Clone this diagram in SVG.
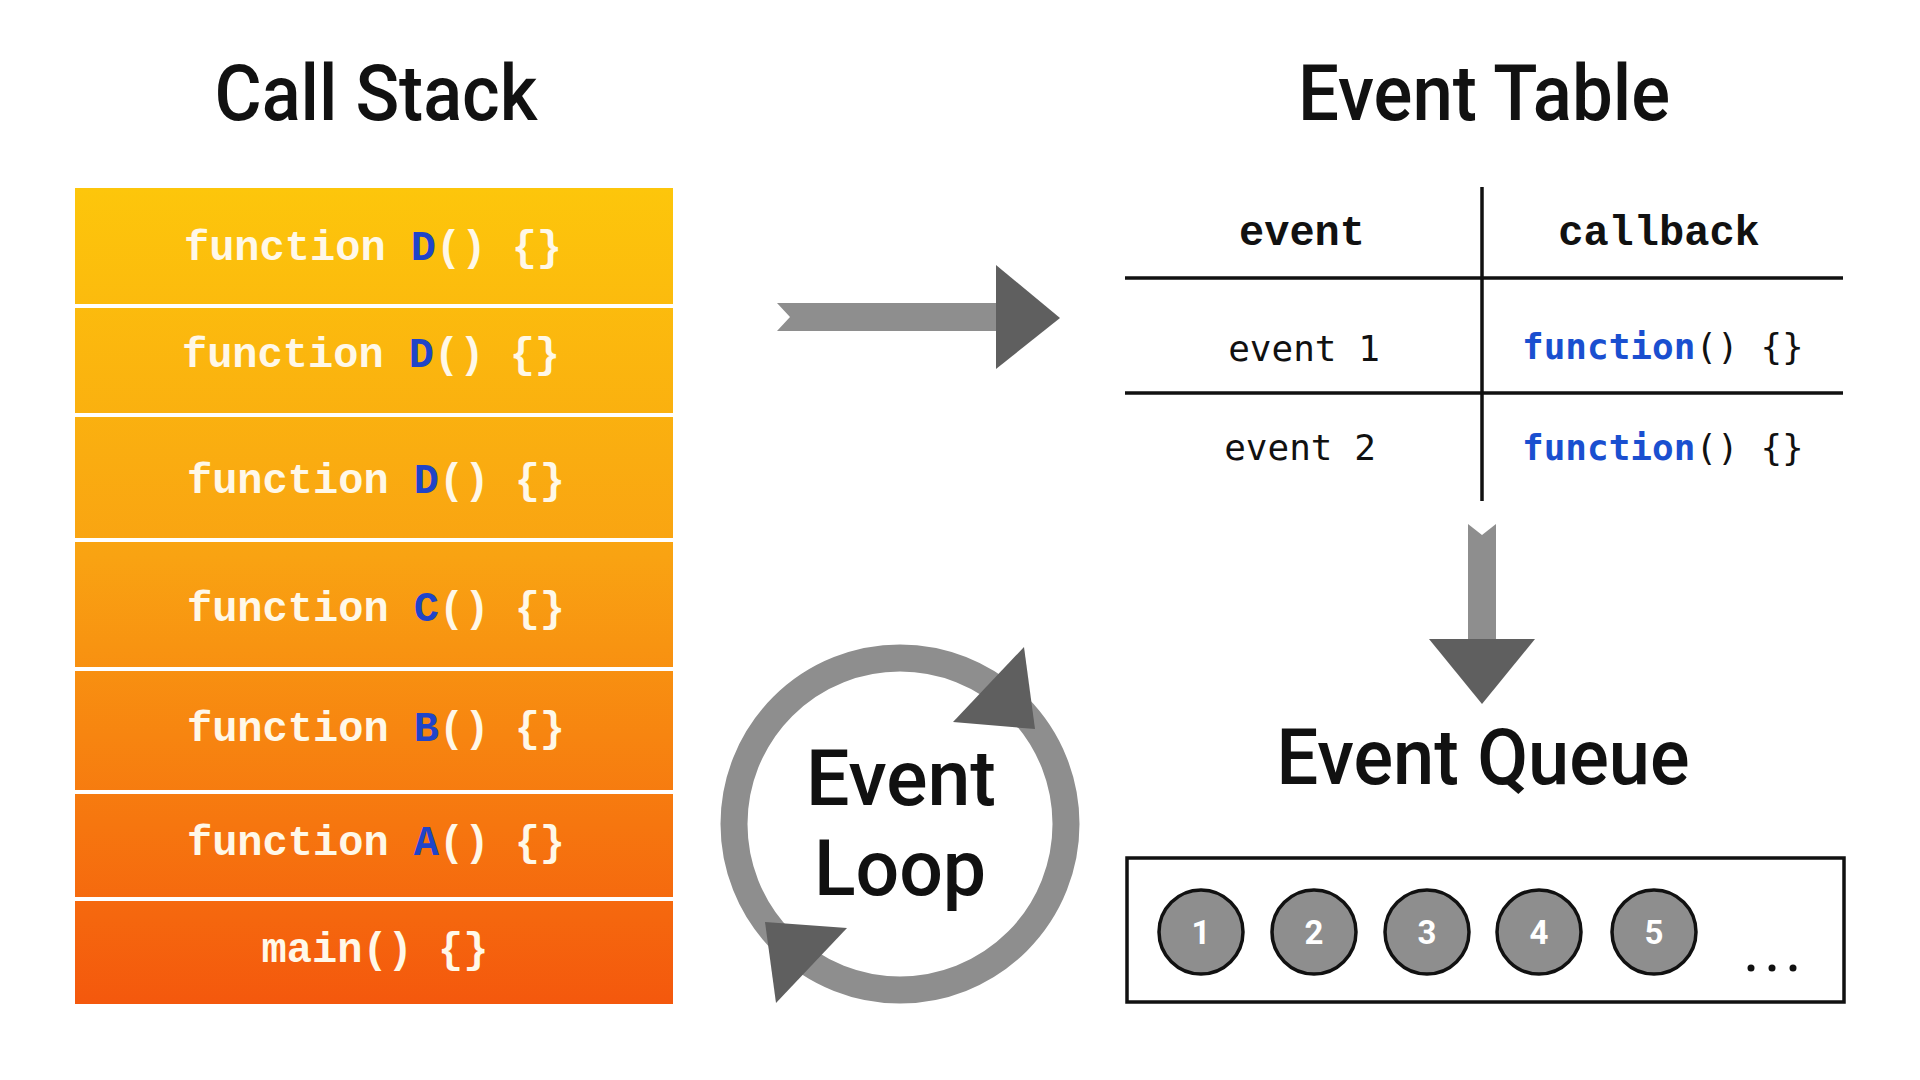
<svg xmlns="http://www.w3.org/2000/svg" width="1920" height="1080" viewBox="0 0 1920 1080">
<style>
.title{font-family:Roboto,"Liberation Sans",sans-serif;font-weight:500;font-size:77px;fill:#111;text-anchor:middle}
.stk{font-family:"Liberation Mono","DejaVu Sans Mono",monospace;font-weight:bold;font-size:42px;fill:#fff8e8;text-anchor:middle}
.fn{fill:#1f44c9}
.hdr{font-family:"Liberation Mono","DejaVu Sans Mono",monospace;font-weight:bold;font-size:42px;fill:#111;text-anchor:middle}
.cell{font-family:"DejaVu Sans Mono","Liberation Mono",monospace;font-size:36px;fill:#111}
.kw{fill:#1a4fd0;font-weight:bold}
.tline{stroke:#111;stroke-width:3.5}
.shaft{fill:#8e8e8e}
.head{fill:#5f5f5f}
.ball{fill:#8e8e8e;stroke:#111;stroke-width:3.5}
.num{font-family:Roboto,"Liberation Sans",sans-serif;font-weight:bold;font-size:33px;fill:#fff;text-anchor:middle}
</style>
<defs>
<linearGradient id="stackGrad" gradientUnits="userSpaceOnUse" x1="0" y1="188" x2="0" y2="1004">
<stop offset="0" stop-color="#fdc60b"/>
<stop offset="0.45" stop-color="#f9a312"/>
<stop offset="1" stop-color="#f4580d"/>
</linearGradient>
</defs>
<rect width="1920" height="1080" fill="#fff"/>

<text class="title" x="376" y="120" textLength="323" lengthAdjust="spacingAndGlyphs">Call Stack</text>
<text class="title" x="1484" y="120" textLength="372" lengthAdjust="spacingAndGlyphs">Event Table</text>
<text class="title" x="1483" y="784" textLength="413" lengthAdjust="spacingAndGlyphs">Event Queue</text>

<g id="call-stack">
<g id="row-d1"><rect x="75" y="188" width="598" height="116" fill="url(#stackGrad)"/><text class="stk" x="373" y="260">function <tspan class="fn">D</tspan>() {}</text></g>
<g id="row-d2"><rect x="75" y="308" width="598" height="105" fill="url(#stackGrad)"/><text class="stk" x="371" y="367">function <tspan class="fn">D</tspan>() {}</text></g>
<g id="row-d3"><rect x="75" y="417" width="598" height="121" fill="url(#stackGrad)"/><text class="stk" x="376" y="493">function <tspan class="fn">D</tspan>() {}</text></g>
<g id="row-c"><rect x="75" y="542" width="598" height="125" fill="url(#stackGrad)"/><text class="stk" x="376" y="621">function <tspan class="fn">C</tspan>() {}</text></g>
<g id="row-b"><rect x="75" y="671" width="598" height="119" fill="url(#stackGrad)"/><text class="stk" x="376" y="741">function <tspan class="fn">B</tspan>() {}</text></g>
<g id="row-a"><rect x="75" y="794" width="598" height="103" fill="url(#stackGrad)"/><text class="stk" x="376" y="855">function <tspan class="fn">A</tspan>() {}</text></g>
<g id="row-main"><rect x="75" y="901" width="598" height="103" fill="url(#stackGrad)"/><text class="stk" x="375" y="962">main() {}</text></g>
</g>

<g id="event-table">
<line class="tline" x1="1482" y1="187" x2="1482" y2="501"/>
<line class="tline" x1="1125" y1="278" x2="1843" y2="278"/>
<line class="tline" x1="1125" y1="393" x2="1843" y2="393"/>
<text class="hdr" x="1302" y="245">event</text>
<text class="hdr" x="1659" y="245">callback</text>
<text class="cell" x="1304" y="361" text-anchor="middle">event 1</text>
<text class="cell" x="1300" y="460" text-anchor="middle">event 2</text>
<text class="cell" x="1522" y="359"><tspan class="kw">function</tspan>() {}</text>
<text class="cell" x="1522" y="460"><tspan class="kw">function</tspan>() {}</text>
</g>

<g id="event-loop">
<circle cx="900" cy="824" r="166" fill="none" stroke="#8e8e8e" stroke-width="27"/>
<polygon class="head" points="1024,647 953,722 1035,729"/>
<polygon class="head" points="765,922 847,928 776,1003"/>
<text class="title" x="901" y="805" font-size="76">Event</text>
<text class="title" x="900" y="895" font-size="76">Loop</text>
</g>

<g id="event-queue">
<rect x="1127" y="858" width="717" height="144" fill="none" stroke="#111" stroke-width="3.5"/>
<g id="q1"><ellipse class="ball" cx="1201" cy="932" rx="42" ry="42"/><text class="num" x="1201" y="944">1</text></g>
<g id="q2"><ellipse class="ball" cx="1314" cy="932" rx="42" ry="42"/><text class="num" x="1314" y="944">2</text></g>
<g id="q3"><ellipse class="ball" cx="1427" cy="932" rx="42" ry="42"/><text class="num" x="1427" y="944">3</text></g>
<g id="q4"><ellipse class="ball" cx="1539" cy="932" rx="42" ry="42"/><text class="num" x="1539" y="944">4</text></g>
<g id="q5"><ellipse class="ball" cx="1654" cy="932" rx="42" ry="42"/><text class="num" x="1654" y="944">5</text></g>
<g id="q-more"><circle cx="1751" cy="968" r="3.5" fill="#111"/><circle cx="1772" cy="968" r="3.5" fill="#111"/><circle cx="1793" cy="968" r="3.5" fill="#111"/></g>
</g>

<g id="connectors">
<g id="arrow-stack-to-table">
<polygon class="shaft" points="777,303 997,303 997,331 777,331 790,317"/>
<polygon class="head" points="996,265 1060,318 996,369"/>
</g>
<g id="arrow-table-to-queue">
<polygon class="shaft" points="1468,524 1482,535 1496,524 1496,640 1468,640"/>
<polygon class="head" points="1429,639 1535,639 1482,704"/>
</g>
</g>
</svg>
